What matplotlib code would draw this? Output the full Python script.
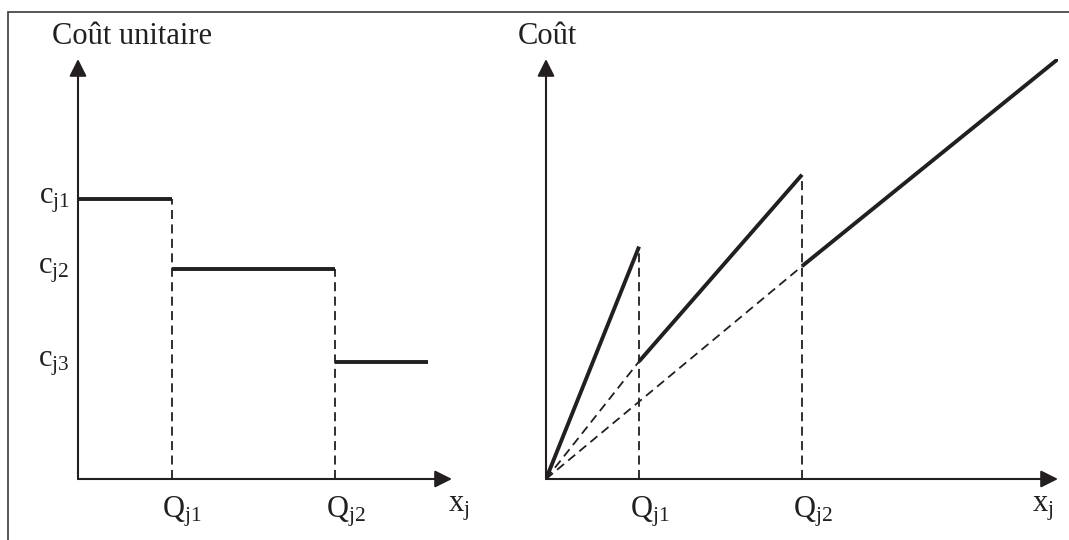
import matplotlib
matplotlib.use('Agg')
import matplotlib.pyplot as plt
from matplotlib.patches import Rectangle

plt.rcParams['font.family'] = ['Liberation Serif', 'DejaVu Serif']
plt.rcParams['mathtext.fontset'] = 'custom'
plt.rcParams['mathtext.rm'] = 'Liberation Serif'
plt.rcParams['mathtext.it'] = 'Liberation Serif'

INK = '#231f20'

# left panel: unit cost by quantity bracket
breaks = [1.0, 2.75]
unit_cost = [2.4, 1.8, 1.0]
unit_end = 3.74
unit_labels = [r'$\mathrm{c}_{\mathrm{j1}}$', r'$\mathrm{c}_{\mathrm{j2}}$', r'$\mathrm{c}_{\mathrm{j3}}$']
break_labels = [r'$\mathrm{Q}_{\mathrm{j1}}$', r'$\mathrm{Q}_{\mathrm{j2}}$']
x_label = r'$\mathrm{x}_{\mathrm{j}}$'

# right panel: total cost segments
seg_x0 = [0.0, 1.0, 2.75]
seg_x1 = [1.0, 2.75, 5.5]
seg_y0 = [0.0, 1.26, 2.28]
seg_y1 = [2.49, 3.26, 4.5]

W, H = 1069, 540
fig = plt.figure(figsize=(W / 100, H / 100), dpi=100)

# outer frame (only left and top edges are visible in the picture)
fig.patches.append(Rectangle((8 / W, -0.1), 1.2, 1.1 - 12 / H,
                             transform=fig.transFigure, fill=False,
                             edgecolor='#3a3a3a', lw=1.2))


def make_axes(x0, x1, y0, y1):
    ax = fig.add_axes([x0 / W, (H - y0) / H, (x1 - x0) / W, (y0 - y1) / H])
    ax.set_axis_off()
    return ax


def draw_arrows(ax):
    arrow = dict(arrowstyle='-|>', lw=1.5, color=INK, mutation_scale=26,
                 shrinkA=0, shrinkB=0)
    ax.annotate('', xy=(1, 0), xytext=(0, 0), xycoords='axes fraction',
                arrowprops=arrow, annotation_clip=False)
    ax.annotate('', xy=(0, 1), xytext=(0, 0), xycoords='axes fraction',
                arrowprops=arrow, annotation_clip=False)


def q_labels(ax):
    for q, lab in zip(breaks, break_labels):
        ax.annotate(lab, xy=(q, 0), xytext=(-6.5, -11), textcoords='offset points',
                    ha='left', va='top', fontsize=22, color=INK)


# ---- left panel ----
ax1 = make_axes(78, 452, 479, 59)
ax1.set_xlim(0, 4.0)
ax1.set_ylim(0, 3.6)
draw_arrows(ax1)

step_x0 = [0.0] + breaks
step_x1 = breaks + [unit_end]
for a, b, c in zip(step_x0, step_x1, unit_cost):
    ax1.plot([a, b], [c, c], color=INK, lw=2.8, solid_capstyle='butt')
for q, c in zip(breaks, unit_cost[:2]):
    ax1.plot([q, q], [0, c], color=INK, lw=1.3, dashes=(5, 3))

for c, lab in zip(unit_cost, unit_labels):
    ax1.annotate(lab, xy=(0, c), xycoords=('axes fraction', 'data'),
                 xytext=(-6, -1), textcoords='offset points',
                 ha='right', va='center', fontsize=22, color=INK)
q_labels(ax1)
ax1.annotate(x_label, xy=(1, 0), xycoords='axes fraction', xytext=(-3, -11),
             textcoords='offset points', ha='left', va='top', fontsize=22, color=INK)
ax1.annotate('Coût unitaire', xy=(0, 1), xycoords='axes fraction', xytext=(-19, 6),
             textcoords='offset points', ha='left', va='bottom', fontsize=22, color=INK)

# ---- right panel ----
ax2 = make_axes(546, 1058, 479, 59)
ax2.set_xlim(0, 5.5)
ax2.set_ylim(0, 4.5)
draw_arrows(ax2)

for a, b, c, d in zip(seg_x0, seg_x1, seg_y0, seg_y1):
    ax2.plot([a, b], [c, d], color=INK, lw=2.8, solid_capstyle='butt')
# extensions of the cheaper price lines back to the origin
for k in (1, 2):
    ax2.plot([0, seg_x0[k]], [0, seg_y0[k]], color=INK, lw=1.3, dashes=(5, 3))
for k in (0, 1):
    ax2.plot([seg_x1[k], seg_x1[k]], [0, seg_y1[k]], color=INK, lw=1.3, dashes=(5, 3))

q_labels(ax2)
ax2.annotate(x_label, xy=(1, 0), xycoords='axes fraction', xytext=(-19, -11),
             textcoords='offset points', ha='left', va='top', fontsize=22, color=INK)
ax2.annotate('Coût', xy=(0, 1), xycoords='axes fraction', xytext=(-20, 6),
             textcoords='offset points', ha='left', va='bottom', fontsize=22, color=INK)

fig.savefig('out.png', dpi=100)
